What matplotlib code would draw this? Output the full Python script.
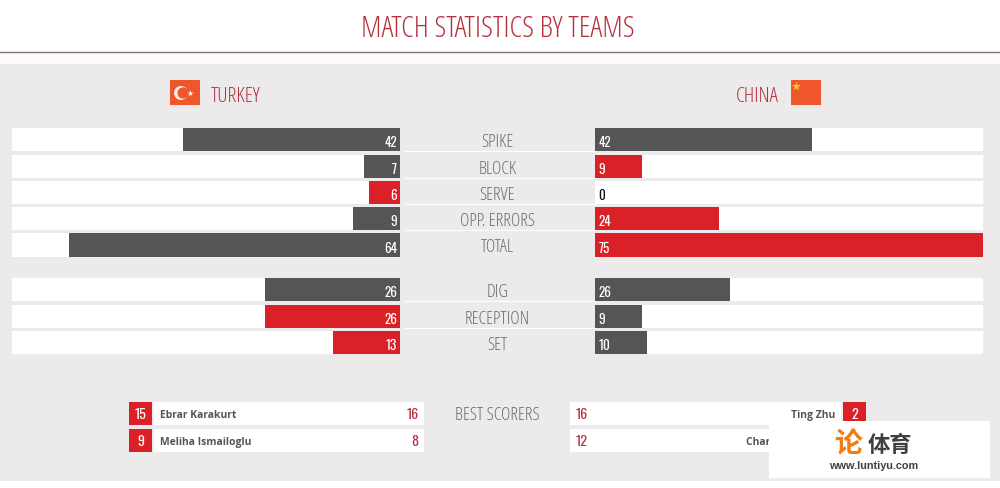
import matplotlib
matplotlib.use('Agg')
import matplotlib.pyplot as plt
from matplotlib.patches import Rectangle, Circle

stats = ['SPIKE', 'BLOCK', 'SERVE', 'OPP. ERRORS', 'TOTAL', 'DIG', 'RECEPTION', 'SET']
turkey = [42, 7, 6, 9, 64, 26, 26, 13]
china = [42, 9, 0, 24, 75, 26, 9, 10]
slots = [0, 1, 2, 3, 4, 5.7, 6.7, 7.7]

scorer_left = ['Ebrar Karakurt', 'Meliha Ismailoglu']
scorer_left_no = ['15', '9']
scorer_left_pts = ['16', '8']
scorer_right = ['Ting Zhu', 'Changning Zhang']
scorer_right_no = ['2', '']
scorer_right_pts = ['16', '12']

W, H = 1000, 489
ROW0, ROWH = 140.8, 26.3
DARK = '#555555'
RED = '#db2128'
TITLE = '#b5323f'
GREY = '#6e6e6e'
BG = '#eceaeb'
THIN = dict(family='Open Sans', stretch='condensed', weight='light')
NUM = dict(family=['Oswald', 'Open Sans'])

fig = plt.figure(figsize=(W / 100, H / 100), dpi=100, facecolor='white')

# page layer, pixel coordinates
page = fig.add_axes([0, 0, 1, 1])
page.set_xlim(0, W)
page.set_ylim(H, 0)
page.axis('off')
page.add_patch(Rectangle((0, 53), W, 12, color='#fdfbfa', lw=0))
page.add_patch(Rectangle((0, 65), W, 417, color=BG, lw=0))
page.plot([0, W], [52.5, 52.5], color='#7d7573', lw=1)
page.text(498, 29.5, 'MATCH STATISTICS BY TEAMS', color=TITLE, fontsize=21.6,
          ha='center', va='center', **THIN)

# flags
page.add_patch(Rectangle((170, 81), 30, 25, color='#f0562b', lw=0))
page.add_patch(Circle((181, 94), 7, color='#fdf0e8', lw=0))
page.add_patch(Circle((183, 94), 5.6, color='#f0562b', lw=0))
page.scatter([190], [94], marker='*', s=22, color='#fdf0e8', lw=0)
page.add_patch(Rectangle((791, 81), 30, 25, color='#f0562b', lw=0))
page.scatter([796], [87], marker='*', s=45, color='#f7c531', lw=0)
page.text(211, 97.5, 'TURKEY', color=TITLE, fontsize=15, ha='left', va='center', **THIN)
page.text(779, 97.5, 'CHINA', color=TITLE, fontsize=15, ha='right', va='center', **THIN)

# stat labels and separators
for s, name in zip(slots, stats):
    y = ROW0 + ROWH * s
    page.text(497.5, y + 1.5, name, color=GREY, fontsize=13, ha='center', va='center', **THIN)
for s in slots[:4] + slots[5:7]:
    y = ROW0 + ROWH * s + 11.5
    page.plot([405, 595], [y, y], color='white', lw=0.8)


def side_axes(x0):
    top, bottom = 128.5, 356.5
    ax = fig.add_axes([x0 / W, 1 - bottom / H, 388 / W, (bottom - top) / H])
    ax.set_ylim((bottom - ROW0) / ROWH, (top - ROW0) / ROWH)
    ax.axis('off')
    ax.patch.set_alpha(0)
    return ax


left = side_axes(12)
left.set_xlim(75, 0)
right = side_axes(595)
right.set_xlim(0, 75)

for ax, vals, others, off in [(left, turkey, china, -2), (right, china, turkey, 2.5)]:
    ax.barh(slots, [75] * len(slots), height=0.875, color='white', lw=0)
    colors = [RED if v > o else DARK for v, o in zip(vals, others)]
    ax.barh(slots, vals, height=0.875, color=colors, lw=0)
    for s, v in zip(slots, vals):
        ax.annotate(str(v), (0, s), xytext=(off, -1.5), textcoords='offset points',
                    color='white' if v else '#111111', fontsize=9.5,
                    ha='left' if ax is right else 'right', va='center', **NUM)

# best scorers
page.text(497.5, 415.5, 'BEST SCORERS', color=GREY, fontsize=13, ha='center', va='center', **THIN)
for i in range(2):
    y = 403 + 26.6 * i
    page.add_patch(Rectangle((129, y), 23, 23, color=RED, lw=0))
    page.add_patch(Rectangle((154, y), 270, 23, color='white', lw=0))
    page.text(140.5, y + 11.5, scorer_left_no[i], color='white', fontsize=10,
              ha='center', va='center', **NUM)
    page.text(160, y + 12.5, scorer_left[i], color='#555555', fontsize=7.5,
              family='Open Sans', fontweight='bold', ha='left', va='center')
    page.text(418.5, y + 11.5, scorer_left_pts[i], color=TITLE, fontsize=10,
              ha='right', va='center', **NUM)

    page.add_patch(Rectangle((570, y), 271, 23, color='white', lw=0))
    page.text(576, y + 11.5, scorer_right_pts[i], color=TITLE, fontsize=10,
              ha='left', va='center', **NUM)
    page.text(835, y + 12.5, scorer_right[i], color='#555555', fontsize=7.5,
              family='Open Sans', fontweight='bold', ha='right', va='center')
    if scorer_right_no[i]:
        page.add_patch(Rectangle((843, y), 23, 23, color=RED, lw=0))
        page.text(854.5, y + 11.5, scorer_right_no[i], color='white', fontsize=10,
                  ha='center', va='center', **NUM)

# watermark sits over everything
wm = fig.add_axes([0, 0, 1, 1])
wm.set_xlim(0, W)
wm.set_ylim(H, 0)
wm.axis('off')
wm.patch.set_alpha(0)
wm.add_patch(Rectangle((769, 422), 221, 57, color='white', lw=0))
wm.text(848, 444, '论', color='#f47a12', fontsize=20, fontweight='bold',
        family='Noto Sans CJK SC', ha='center', va='center')
wm.text(890, 446, '体育', color='#3f3f3f', fontsize=16, fontweight='bold',
        family='Noto Sans CJK SC', ha='center', va='center')
wm.text(874, 466, 'www.luntiyu.com', color='#3f3f3f', fontsize=7.8, fontweight='bold',
        family='Liberation Sans', ha='center', va='center')

fig.savefig('out.png', dpi=100)
